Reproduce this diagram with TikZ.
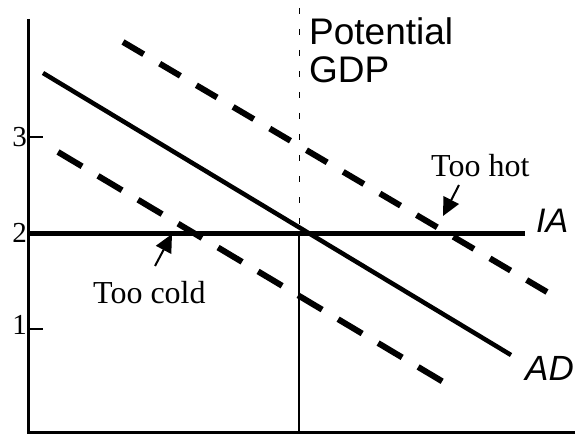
\documentclass[tikz,border=0pt]{standalone}
\usepackage{fontspec}
\setmainfont{Liberation Serif}
\newfontfamily\arialfont{Liberation Sans}
\usetikzlibrary{arrows.meta}
\begin{document}
\begin{tikzpicture}[x=1pt,y=-1pt,
  axisline/.style={line width=3pt},
  tickline/.style={line width=2.5pt},
  ticklabel/.style={font=\fontsize{29}{29}\selectfont, anchor=east, inner sep=0pt},
  adline/.style={line width=4.5pt},
  ialine/.style={line width=5pt},
  dashedhi/.style={line width=6pt, dash pattern=on 24pt off 18.6pt},
  dashedlo/.style={line width=6pt, dash pattern=on 28pt off 18.6pt},
  potline/.style={line width=1pt, dash pattern=on 6pt off 15pt},
  serlabel/.style={font=\fontsize{32}{32}\selectfont, inner sep=0pt, anchor=base west},
  curvelabel/.style={font=\arialfont\itshape\fontsize{35}{35}\selectfont, inner sep=0pt, anchor=base west},
  pointer/.style={line width=2pt, -{Triangle[length=18pt,width=17pt]}}
]
\useasboundingbox (0,0) rectangle (582,436);
% axes
\coordinate (O) at (28,432);
\coordinate (Ytop) at (28,19);
\coordinate (Xend) at (575,432);
\draw[axisline] (Ytop) -- (O) -- (Xend);
% ticks
\coordinate (t1) at (28,329); \coordinate (te1) at (43,329);
\coordinate (t2) at (28,233); \coordinate (te2) at (43,233);
\coordinate (t3) at (28,137); \coordinate (te3) at (43,137);
\draw[tickline] (t1) -- (te1);
\draw[tickline] (t2) -- (te2);
\draw[tickline] (t3) -- (te3);
\node[ticklabel] (l1) at (27,325) {1};
\node[ticklabel] (l2) at (27,233) {2};
\node[ticklabel] (l3) at (27,137) {3};
% potential GDP line
\coordinate (Ptop) at (299,8);
\coordinate (Pmid) at (299,233);
\coordinate (Pbot) at (299,432);
\draw[potline] (Ptop) -- (Pmid);
\draw[line width=2pt] (Pmid) -- (Pbot);
\node[font=\arialfont\fontsize{37}{38}\selectfont, inner sep=0pt, anchor=base west, align=left] (pot) at (309,83) {Potential\\GDP};
% IA line
\coordinate (IAs) at (28,233);
\coordinate (IAe) at (525,233);
\draw[ialine] (IAs) -- (IAe);
\node[curvelabel, font=\arialfont\itshape\fontsize{34}{34}\selectfont] (ia) at (536,232) {IA};
% AD
\coordinate (ADs) at (43,73);
\coordinate (ADe) at (511,355);
\draw[adline] (ADs) -- (ADe);
\node[curvelabel] (ad) at (525,380) {AD};
% dashed AD curves
\coordinate (Hs) at (123,42);
\coordinate (He) at (547,292);
\draw[dashedhi] (Hs) -- (He);
\coordinate (Ls) at (58,152);
\coordinate (Le) at (445,383);
\draw[dashedlo] (Ls) -- (Le);
% labels with pointers
\node[serlabel] (hot) at (431,177) {Too hot};
\coordinate (hotTail) at (459,185);
\coordinate (hotTip) at (443,216);
\draw[pointer] (hotTail) -- (hotTip);
\node[serlabel] (cold) at (93,303) {Too cold};
\coordinate (coldTail) at (155,266);
\coordinate (coldTip) at (172,234);
\draw[pointer] (coldTail) -- (coldTip);
\end{tikzpicture}
\end{document}
